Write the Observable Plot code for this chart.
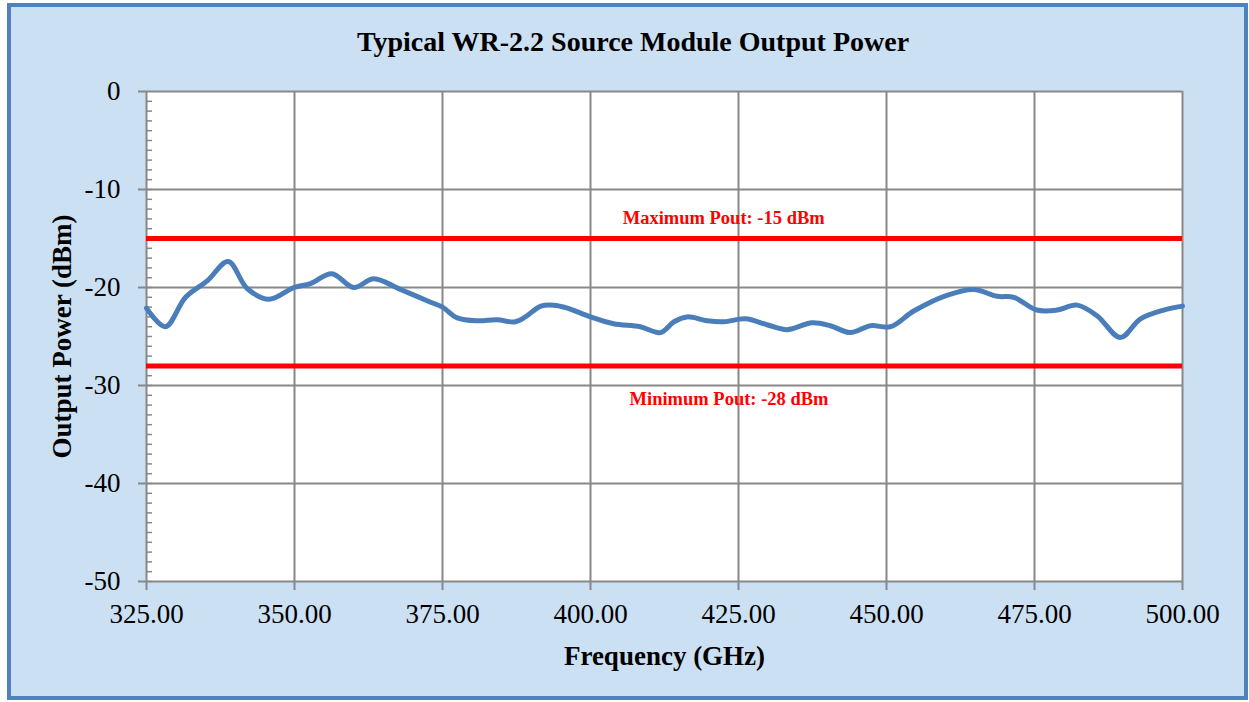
<!DOCTYPE html>
<html>
<head>
<meta charset="utf-8">
<script src="https://cdn.jsdelivr.net/npm/d3@7"></script>
<script src="https://cdn.jsdelivr.net/npm/@observablehq/plot@0.6"></script>
<style>
  html, body { margin: 0; padding: 0; background: #ffffff; }
  #wrap { position: relative; width: 1249px; height: 702px; overflow: hidden; font-family: "Liberation Serif", "Times New Roman", serif; }
  #panel { position: absolute; left: 7px; top: 3px; width: 1241px; height: 697px; box-sizing: border-box;
           border: 4px solid #4F81BD; background: #CCE0F3; }
  #title { position: absolute; left: 0; width: 1266px; top: 26px; text-align: center;
           font-weight: bold; font-size: 28px; color: #000; white-space: nowrap; }
  #chart { position: absolute; left: 0; top: 0; }
</style>
</head>
<body>
<div id="wrap">
  <div id="panel"></div>
  <div id="title">Typical WR-2.2 Source Module Output Power</div>
  <div id="chart"></div>
</div>
<script>
// ---- data ----
const freqGHz = [325.0, 328.2, 331.6, 335.3, 338.8, 342.0, 345.7, 349.9, 352.7, 356.3, 360.0, 363.4, 367.9, 373.0,
  375.0, 377.5, 380.9, 384.2, 387.3, 389.0, 391.6, 393.8, 396.1, 400.0, 403.9, 408.4, 411.8, 414.1, 416.3, 419.7,
  422.5, 426.2, 429.8, 433.2, 437.4, 440.5, 443.9, 447.3, 450.7, 454.6, 460.2, 464.7, 468.7, 471.5, 475.4, 478.8,
  482.2, 485.6, 489.5, 492.9, 496.8, 500.0];
const powerDBm = [-22.1, -24.0, -21.0, -19.3, -17.35, -20.1, -21.2, -20.0, -19.6, -18.6, -20.0, -19.1, -20.2, -21.5,
  -22.0, -23.1, -23.4, -23.3, -23.5, -23.0, -21.9, -21.8, -22.1, -23.0, -23.7, -24.0, -24.6, -23.5, -23.0, -23.4,
  -23.5, -23.2, -23.8, -24.3, -23.6, -23.9, -24.6, -23.9, -24.0, -22.4, -20.8, -20.2, -20.9, -21.0, -22.3, -22.3,
  -21.8, -22.9, -25.1, -23.2, -22.3, -21.9];
const limitValues = [-15, -28];
const limitLabels = ["Maximum Pout: -15 dBm", "Minimum Pout: -28 dBm"];
const xTicks = [325, 350, 375, 400, 425, 450, 475, 500];
const yTicks = [0, -10, -20, -30, -40, -50];
const yMinorTicks = d3.range(-50, 0, 1);
const xTitle = "Frequency (GHz)";
const yTitle = "Output Power (dBm)";

const series = freqGHz.map((f, i) => ({f, p: powerDBm[i]}));
const limits = limitValues.map((v, i) => ({v, label: limitLabels[i]}));

const gridColor = "#888888";
const font = "'Liberation Serif', 'Times New Roman', serif";

const chart = Plot.plot({
  width: 1249,
  height: 702,
  marginLeft: 146,
  marginRight: 67,
  marginTop: 91,
  marginBottom: 121,
  style: {background: "transparent", fontFamily: font, overflow: "visible"},
  x: {domain: [325, 500]},
  y: {domain: [-50, 0]},
  marks: [
    Plot.frame({fill: "white", stroke: null}),
    Plot.gridX(xTicks, {stroke: gridColor, strokeOpacity: 1, strokeWidth: 2}),
    Plot.gridY(yTicks, {stroke: gridColor, strokeOpacity: 1, strokeWidth: 2}),
    Plot.axisY(yTicks, {tickSize: 8, tickPadding: 18, fontSize: 27, tickFormat: (d) => String(d), stroke: gridColor, strokeWidth: 2, fill: "black", label: null}),
    Plot.axisY(yMinorTicks, {tickSize: -6, text: null, stroke: gridColor, strokeWidth: 1.5, label: null}),
    Plot.axisX(xTicks, {tickSize: 9, tickPadding: 13, fontSize: 27, tickFormat: d3.format(".2f"), stroke: gridColor, strokeWidth: 2, fill: "black", label: null}),
    Plot.ruleY(limits, {y: "v", stroke: "#FF0000", strokeWidth: 5}),
    Plot.line(series, {x: "f", y: "p", stroke: "#4A7EBB", strokeWidth: 5, curve: "catmull-rom"}),
    Plot.text([limits[0]], {x: () => 422.5, y: "v", text: "label", fill: "#FF0000", fontWeight: "bold", fontSize: 18.5, dy: -20}),
    Plot.text([limits[1]], {x: () => 423.4, y: "v", text: "label", fill: "#FF0000", fontWeight: "bold", fontSize: 18.5, dy: 33}),
    Plot.text([yTitle], {frameAnchor: "left", textAnchor: "middle", dx: -84, rotate: -90, fontSize: 27, fontWeight: "bold", fill: "black"}),
    Plot.text([xTitle], {frameAnchor: "bottom", dy: 83, fontSize: 27, fontWeight: "bold", fill: "black"})
  ]
});
document.getElementById("chart").append(chart);
</script>
</body>
</html>
